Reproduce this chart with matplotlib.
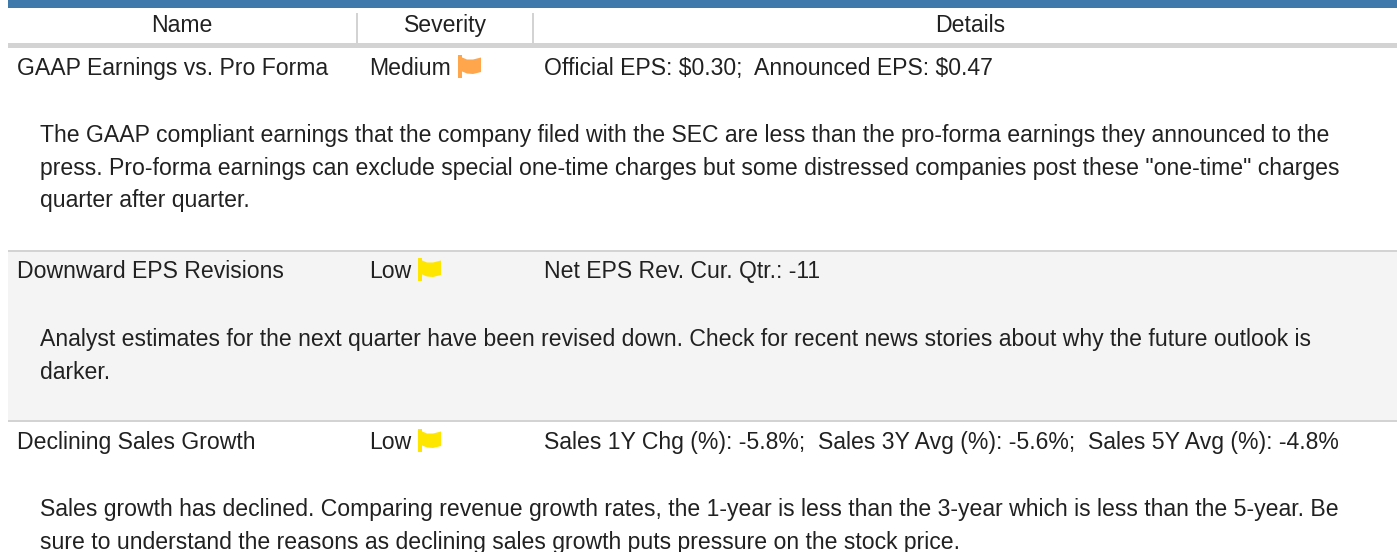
import matplotlib
matplotlib.use("Agg")
import matplotlib.pyplot as plt
from matplotlib.patches import Polygon, Rectangle

plt.rcParams["font.family"] = ["Liberation Sans", "DejaVu Sans"]

headers = ["Name", "Severity", "Details"]
names = ["GAAP Earnings vs. Pro Forma", "Downward EPS Revisions", "Declining Sales Growth"]
severities = ["Medium", "Low", "Low"]
details = [
    r"Official EPS: \$0.30;  Announced EPS: \$0.47",
    "Net EPS Rev. Cur. Qtr.: -11",
    "Sales 1Y Chg (%): -5.8%;  Sales 3Y Avg (%): -5.6%;  Sales 5Y Avg (%): -4.8%",
]
descriptions = [
    ["The GAAP compliant earnings that the company filed with the SEC are less than the pro-forma earnings they announced to the",
     "press. Pro-forma earnings can exclude special one-time charges but some distressed companies post these \"one-time\" charges",
     "quarter after quarter."],
    ["Analyst estimates for the next quarter have been revised down. Check for recent news stories about why the future outlook is",
     "darker."],
    ["Sales growth has declined. Comparing revenue growth rates, the 1-year is less than the 3-year which is less than the 5-year. Be",
     "sure to understand the reasons as declining sales growth puts pressure on the stock price."],
]

row_base = [75, 278, 449]
desc_base = [142, 346, 516]
flag_x = [458, 418, 418]
flag_top = [55, 258, 429]
flag_colors = {"Medium": "#ffa64d", "Low": "#ffe600"}
TEXT = "#212121"
GREY = "#d3d3d3"
FS = 16.55


def draw_flag(ax, x, y, color):
    # little waving flag, y is the top of the pole
    ax.add_patch(Rectangle((x, y), 4, 23, fc=color, ec="none"))
    pts = [(x + 3, y + 2), (x + 9, y + 4.5), (x + 15, y + 4.5), (x + 23, y + 2.5),
           (x + 23, y + 17), (x + 15, y + 19), (x + 9, y + 18.5), (x + 3, y + 16)]
    ax.add_patch(Polygon(pts, closed=True, fc=color, ec="none"))


fig = plt.figure(figsize=(13.97, 5.52), dpi=100)
ax = fig.add_axes([0, 0, 1, 1])
ax.set_xlim(0, 1397)
ax.set_ylim(552, 0)
ax.axis("off")

# header
ax.add_patch(Rectangle((8, 0), 1389, 8, fc="#3f78ab", ec="none"))
ax.add_patch(Rectangle((8, 43), 1389, 5, fc=GREY, ec="none"))
for sep in [357, 533]:
    ax.add_patch(Rectangle((sep - 0.75, 13), 1.5, 30, fc=GREY, ec="none"))
for label, cx in zip(headers, [182, 445, 970]):
    ax.text(cx, 32, label, ha="center", va="baseline", fontsize=FS, color=TEXT)

# middle row has a grey background
ax.add_patch(Rectangle((8, 252), 1389, 168, fc="#f4f4f4", ec="none"))
for ly in [250, 420]:
    ax.add_patch(Rectangle((8, ly), 1389, 2, fc=GREY, ec="none"))

for i, y in enumerate(row_base):
    ax.text(17, y, names[i], ha="left", va="baseline", fontsize=FS, color=TEXT)
    ax.text(369, y, severities[i], ha="left", va="baseline", fontsize=FS, color=TEXT)
    draw_flag(ax, flag_x[i], flag_top[i], flag_colors[severities[i]])
    ax.text(544, y, details[i], ha="left", va="baseline", fontsize=FS, color=TEXT)
    for j, line in enumerate(descriptions[i]):
        ax.text(40, desc_base[i] + j * 32.7, line, ha="left", va="baseline", fontsize=FS, color=TEXT)

fig.savefig("out.png", dpi=100)
plt.close(fig)
